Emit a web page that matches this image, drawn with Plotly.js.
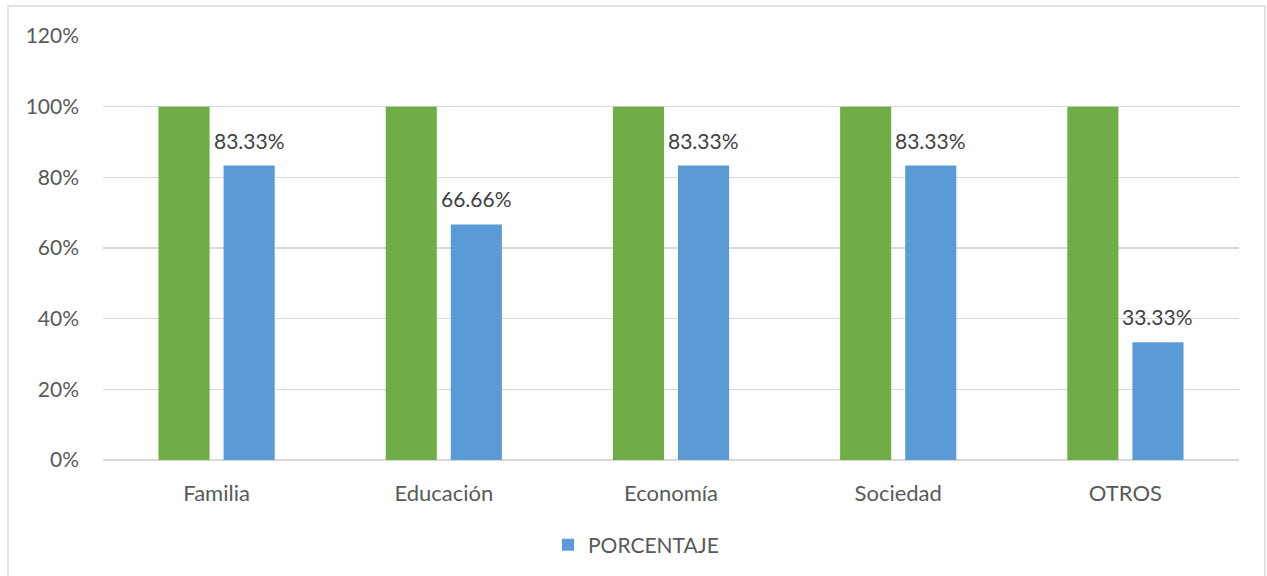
<!DOCTYPE html>
<html>
<head>
<meta charset="utf-8">
<script src="https://cdn.plot.ly/plotly-3.0.1.min.js"></script>
<style>
  html, body { margin: 0; padding: 0; background: #ffffff; }
  #chart { width: 1267px; height: 576px; }
</style>
</head>
<body>
<div id="chart"></div>
<script>
const categories = ["Familia", "Educación", "Economía", "Sociedad", "OTROS"];
const totalValues = [1, 1, 1, 1, 1];
const porcentajeValues = [0.8333, 0.6666, 0.8333, 0.8333, 0.3333];
const porcentajeLabels = ["83.33%", "66.66%", "83.33%", "83.33%", "33.33%"];
const yTickValues = [0, 0.2, 0.4, 0.6, 0.8, 1.0, 1.2];
const yTickLabels = ["0%", "20%", "40%", "60%", "80%", "100%", "120%"];

const FONT = "Lato, 'Open Sans', sans-serif";

const BARGAP = 0.427;
const BARGROUPGAP = 0.215;
// offset of the second bar's centre within its category (in category units)
const slot = (1 - BARGAP) / 2;
const blueOffset = slot / 2;

const traces = [
  {
    type: "bar",
    x: categories,
    y: totalValues,
    name: "TOTAL",
    showlegend: false,
    marker: { color: "#70AD47" },
    hoverinfo: "skip"
  },
  {
    type: "bar",
    x: categories,
    y: porcentajeValues,
    name: "PORCENTAJE",
    marker: { color: "#5B9BD5" }
  }
];

const annotations = categories.map((c, i) => ({
  xref: "x",
  yref: "y",
  x: i + blueOffset,
  y: porcentajeValues[i],
  text: porcentajeLabels[i],
  showarrow: false,
  xanchor: "center",
  yanchor: "bottom",
  yshift: 11,
  font: { family: FONT, size: 21, color: "#404040" }
}));

const layout = {
  width: 1267,
  height: 576,
  paper_bgcolor: "#ffffff",
  plot_bgcolor: "#ffffff",
  font: { family: FONT, size: 20, color: "#595959" },
  margin: { l: 103, r: 28, t: 36, b: 116, autoexpand: false },
  barmode: "group",
  bargap: BARGAP,
  bargroupgap: BARGROUPGAP,
  showlegend: true,
  legend: {
    orientation: "h",
    x: 636 / 1267,
    xref: "container",
    xanchor: "center",
    y: (576 - 545) / 576,
    yref: "container",
    yanchor: "middle",
    font: { family: FONT, size: 21, color: "#595959" },
    itemwidth: 30
  },
  xaxis: {
    type: "category",
    showgrid: false,
    showline: false,
    zeroline: false,
    ticks: "",
    ticklabelstandoff: 18,
    tickfont: { family: FONT, size: 22, color: "#595959" }
  },
  yaxis: {
    range: [0, 1.2],
    tickvals: yTickValues,
    ticktext: yTickLabels,
    showgrid: true,
    gridcolor: "#D9D9D9",
    gridwidth: 1.5,
    zeroline: true,
    zerolinecolor: "#D9D9D9",
    zerolinewidth: 1.5,
    showline: false,
    ticks: "",
    ticklabelstandoff: 23,
    tickfont: { family: FONT, size: 21, color: "#595959" }
  },
  annotations: annotations,
  shapes: [
    {
      type: "rect",
      xref: "paper", yref: "paper",
      x0: (8 - 103) / 1136, x1: (1265 - 103) / 1136,
      y0: (460 - 582) / 424, y1: (460 - 6) / 424,
      line: { color: "#D9D9D9", width: 1.5 },
      fillcolor: "rgba(0,0,0,0)",
      layer: "below"
    }
  ]
};

Plotly.newPlot("chart", traces, layout, { displayModeBar: false, staticPlot: true });
</script>
</body>
</html>
